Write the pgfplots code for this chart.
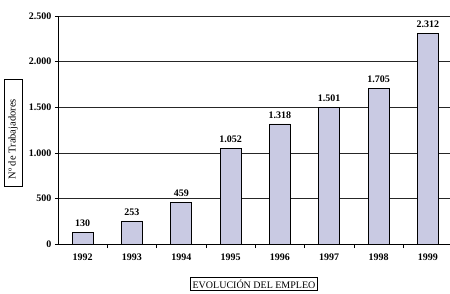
\documentclass[border=0pt]{standalone}
\usepackage{pgfplots}
\pgfplotsset{compat=1.18}
\usepackage{fontspec}
\setmainfont{Liberation Serif}
\definecolor{barfill}{HTML}{C9CAE3}
\begin{document}
\begin{tikzpicture}
\begin{axis}[
  at={(0,0)}, anchor=south west,
  scale only axis, width=392pt, height=228pt,
  xmin=-0.5, xmax=7.45, ymin=0, ymax=2500,
  axis x line=bottom, axis y line=left,
  axis line style={-, black, line width=0.6pt},
  xtick={0,...,7},
  xticklabels={1992,1993,1994,1995,1996,1997,1998,1999},
  major x tick style={draw=none},
  minor xtick={0.5,1.5,...,6.5},
  minor x tick style={black, line width=0.6pt},
  minor tick length=4pt,
  ytick={0,500,...,2500},
  tick align=outside,
  major tick length=3pt,
  ytick style={black, line width=0.6pt},
  ymajorgrids, grid style={black!85, line width=0.6pt},
  /pgf/number format/.cd, 1000 sep={.}, assume math mode=true,
  /pgfplots/.cd,
  ticklabel style={font=\bfseries\fontsize{10}{12}\selectfont},
  xticklabel style={yshift=-3pt},
  scaled y ticks=false,
  ybar, bar width=21pt,
  nodes near coords,
  nodes near coords style={font=\bfseries\fontsize{10}{12}\selectfont, /pgf/number format/1000 sep={.}, /pgf/number format/assume math mode=true, yshift=2pt},
  xlabel={EVOLUCIÓN DEL EMPLEO},
  xlabel style={draw, line width=0.6pt, inner sep=2pt, font=\fontsize{10}{12}\selectfont, at={(axis description cs:0.5,0)}, yshift=-40pt, anchor=center},
]
\addplot[fill=barfill, draw=black, line width=0.6pt] coordinates {
 (0,130) (1,253) (2,459) (3,1052) (4,1318) (5,1501) (6,1705) (7,2312)};
\end{axis}
\draw[line width=0.8pt] (-54pt,58pt) rectangle (-36pt,165pt);
\node[rotate=90, anchor=west, font=\fontsize{10.5}{12}\selectfont] at (-45pt,61pt) {N\textordmasculine\ de Trabajadores};
\pgfresetboundingbox
\path (-58pt,-49pt) rectangle (392pt,244pt);
\end{tikzpicture}
\end{document}
